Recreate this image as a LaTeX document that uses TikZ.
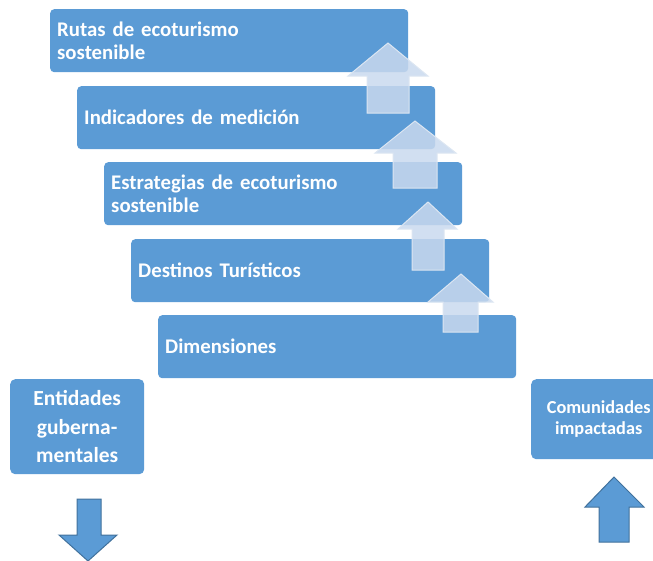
\documentclass[tikz,border=0pt]{standalone}
\usepackage{fontspec}
\setmainfont{Carlito}
\definecolor{boxblue}{HTML}{5B9BD5}
\definecolor{arrowlight}{HTML}{C9D9EE}
\definecolor{arrowedge}{HTML}{DCE6F2}
\definecolor{arrowdark}{HTML}{41719C}
\begin{document}
\begin{tikzpicture}[x=1pt,y=-1pt,
  stepbox/.style={draw=none,fill=boxblue,rounded corners=4pt,anchor=north west,
    minimum width=358pt,minimum height=63pt,text width=344pt,inner xsep=7pt,inner ysep=0pt,
    align=left,text=white,font=\bfseries\fontsize{20.8}{22.5}\selectfont},
  sidebox/.style={draw=none,fill=boxblue,rounded corners=5pt,anchor=north west,
    align=center,text=white,inner sep=0pt},
  uparrow/.style={fill=arrowlight,draw=arrowedge,line width=1pt,fill opacity=0.85},
  bigarrow/.style={fill=boxblue,draw=arrowdark,line width=1pt}]
\useasboundingbox (0,0) rectangle (653,560);
\clip (0,0) rectangle (653,560);
\node[stepbox] (b1) at (50,9) {Rutas de ecoturismo\\sostenible};
\node[stepbox] (b2) at (77,86) {Indicadores de medición};
\node[stepbox] (b3) at (104,162) {Estrategias de ecoturismo\\sostenible};
\node[stepbox] (b4) at (131,239) {Destinos Turísticos};
\node[stepbox] (b5) at (158,315) {Dimensiones};
% light arrows
\draw[uparrow] (388,43) -- (428,76) -- (409,76) -- (409,113) -- (367,113) -- (367,76) -- (348,76) -- cycle;
\draw[uparrow] (415,121) -- (456,153) -- (437,153) -- (437,188) -- (393,188) -- (393,153) -- (375,153) -- cycle;
\draw[uparrow] (428,202) -- (457,229) -- (444,229) -- (444,270) -- (412,270) -- (412,229) -- (398,229) -- cycle;
\draw[uparrow] (461,274) -- (493,302) -- (478,302) -- (478,332) -- (443,332) -- (443,302) -- (428,302) -- cycle;
% side boxes
\node[sidebox,minimum width=134pt,minimum height=95pt,text width=134pt,
  font=\bfseries\fontsize{21.5}{28.5}\selectfont] (ent) at (10,379) {Entidades\\guberna-\\mentales};
\node[sidebox,minimum width=140pt,minimum height=80pt,text width=134pt,
  font=\bfseries\fontsize{18.3}{21}\selectfont] (com) at (531,379) {\hspace*{-5pt}\makebox[120pt]{Comunidades}\\\hspace*{-5pt}\makebox[120pt]{impactadas}};
% big arrows
\draw[bigarrow] (77,499) -- (101,499) -- (101,535) -- (117,535) -- (88,561) -- (59,535) -- (77,535) -- cycle;
\draw[bigarrow] (614,477) -- (644,507) -- (629,507) -- (629,542) -- (599,542) -- (599,507) -- (585,507) -- cycle;
\end{tikzpicture}
\end{document}
